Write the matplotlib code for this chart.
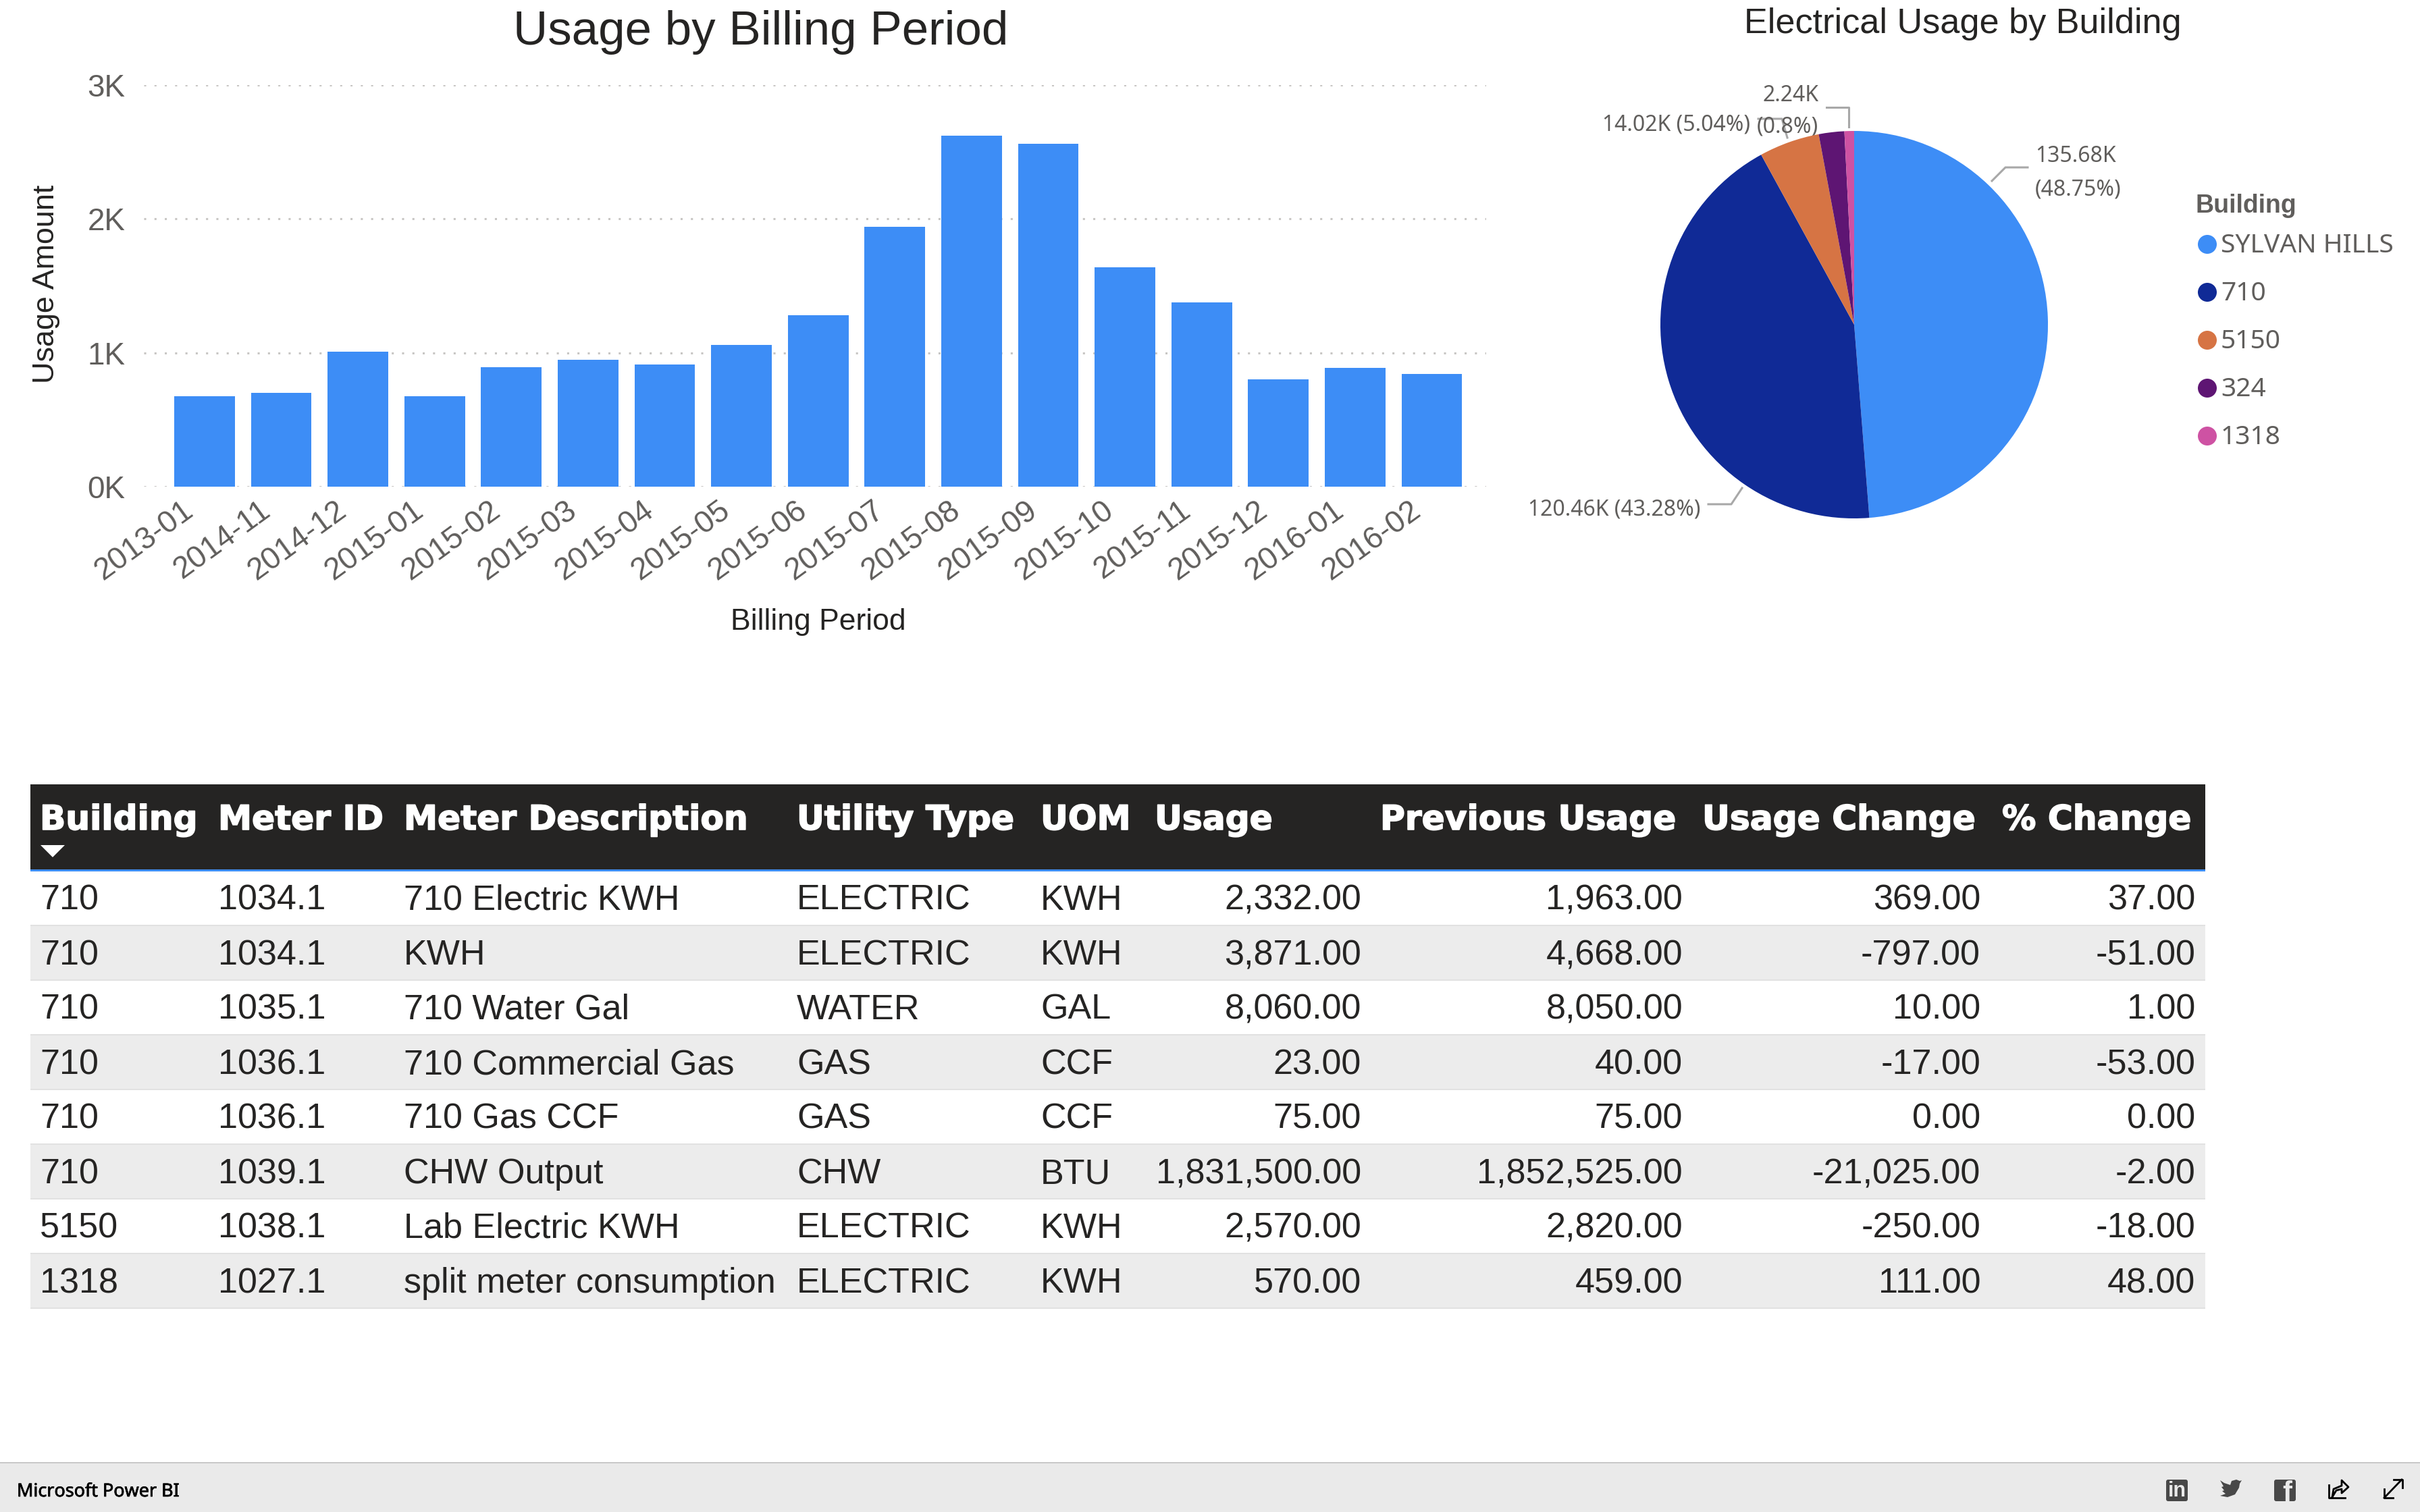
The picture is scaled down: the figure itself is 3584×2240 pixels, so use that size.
# coding: UTF-8
# Power BI usage report page: bar chart, pie chart, meter table and footer bar

import numpy as np
import matplotlib
matplotlib.use('Agg')
import matplotlib.pyplot as plt
from matplotlib.patches import Rectangle, Circle, FancyBboxPatch, Polygon
from matplotlib.transforms import ScaledTranslation
import matplotlib.patheffects as pe

periods = ['2013-01', '2014-11', '2014-12', '2015-01', '2015-02', '2015-03',
           '2015-04', '2015-05', '2015-06', '2015-07', '2015-08', '2015-09',
           '2015-10', '2015-11', '2015-12', '2016-01', '2016-02']
usage_amount = [678, 700, 1006, 678, 890, 948, 915, 1058, 1280, 1940, 2620,
                2560, 1640, 1375, 800, 885, 840]
y_ticks = [0, 1000, 2000, 3000]
y_tick_labels = ['0K', '1K', '2K', '3K']

buildings = ['SYLVAN HILLS', '710', '5150', '324', '1318']
building_usage = [135.68, 120.46, 14.02, 5.92, 2.24]
building_colors = ['#3D8DF6', '#102A96', '#D67444', '#5E1573', '#CE52A3']

table_header = ['Building', 'Meter ID', 'Meter Description', 'Utility Type', 'UOM',
                'Usage', 'Previous Usage', 'Usage Change', '% Change']
col_building = ['710', '710', '710', '710', '710', '710', '5150', '1318']
col_meter_id = ['1034.1', '1034.1', '1035.1', '1036.1', '1036.1', '1039.1', '1038.1', '1027.1']
col_desc = ['710 Electric KWH', 'KWH', '710 Water Gal', '710 Commercial Gas', '710 Gas CCF',
            'CHW Output', 'Lab Electric KWH', 'split meter consumption']
col_type = ['ELECTRIC', 'ELECTRIC', 'WATER', 'GAS', 'GAS', 'CHW', 'ELECTRIC', 'ELECTRIC']
col_uom = ['KWH', 'KWH', 'GAL', 'CCF', 'CCF', 'BTU', 'KWH', 'KWH']
col_usage = ['2,332.00', '3,871.00', '8,060.00', '23.00', '75.00', '1,831,500.00', '2,570.00', '570.00']
col_prev = ['1,963.00', '4,668.00', '8,050.00', '40.00', '75.00', '1,852,525.00', '2,820.00', '459.00']
col_change = ['369.00', '-797.00', '10.00', '-17.00', '0.00', '-21,025.00', '-250.00', '111.00']
col_pct = ['37.00', '-51.00', '1.00', '-53.00', '0.00', '-2.00', '-18.00', '48.00']

W, H = 3584, 2240
DARK = '#252423'
GREY = '#605E5C'
SANS = 'Liberation Sans'

plt.rcParams['font.family'] = SANS

fig = plt.figure(figsize=(W / 100, H / 100), dpi=100, facecolor='white')


def px_axes(l, t, r, b):
    return fig.add_axes([l / W, 1 - b / H, (r - l) / W, (b - t) / H])


# everything that is not a plot goes on a page axes in pixel coordinates
page = fig.add_axes([0, 0, 1, 1])
page.set_xlim(0, W)
page.set_ylim(H, 0)
page.axis('off')

# bar chart
ax = px_axes(213, 126, 2201, 721)
x = np.arange(len(periods))
ax.bar(x, usage_amount, width=0.79, color=building_colors[0], zorder=3)
ax.set_xlim(-0.792, 16.708)
ax.set_ylim(0, 3000)
ax.set_yticks(y_ticks)
ax.set_yticklabels(y_tick_labels, fontsize=33, color=GREY)
ax.set_xticks(x)
ax.set_xticklabels(periods, fontsize=33, color=GREY, rotation=36, ha='right',
                   rotation_mode='anchor')
ax.tick_params(axis='y', length=0, pad=20)
ax.tick_params(axis='x', length=0, pad=9)
shift_left = ScaledTranslation(-34 / 100, 0, fig.dpi_scale_trans)
for lab in ax.get_xticklabels():
    lab.set_transform(lab.get_transform() + shift_left)
ax.grid(axis='y', color='#C8C6C4', lw=2.2, ls=(0, (1, 4)), zorder=0)
ax.set_axisbelow(True)
ax.patch.set_alpha(0)
for s in ax.spines.values():
    s.set_visible(False)

page.text(1127, 48, 'Usage by Billing Period', fontsize=51, color=DARK, ha='center', va='center')
page.text(1212, 922, 'Billing Period', fontsize=32, color=DARK, ha='center', va='center')
page.text(69, 421, 'Usage Amount', fontsize=32.3, color=DARK, ha='center', va='center', rotation=90)

# pie chart
pie_ax = px_axes(2459, 194, 3033, 768)
pie_ax.pie(building_usage, colors=building_colors, startangle=90, counterclock=False, radius=1)
pie_ax.set_xlim(-1, 1)
pie_ax.set_ylim(-1, 1)

page.text(2907, 36, 'Electrical Usage by Building', fontsize=37.6, color=DARK, ha='center', va='center')

LABEL_FONT = 'Noto Sans'
leaders = [[(2950, 268), (2970, 248), (3003, 248)],
           [(2530, 747), (2564, 747), (2580, 723)],
           [(2604, 176), (2639, 176), (2647, 204)],
           [(2705, 159), (2738, 159), (2738, 188)]]
for pts in leaders:
    page.plot([p[0] for p in pts], [p[1] for p in pts], color='#A8A8A8', lw=2.2)
page.text(3014, 232, '135.68K', fontsize=23, color=GREY, va='center', family=LABEL_FONT)
page.text(3014, 281, '(48.75%)', fontsize=23, color=GREY, va='center', family=LABEL_FONT)
page.text(2518, 755, '120.46K (43.28%)', fontsize=23, color=GREY, va='center', ha='right', family=LABEL_FONT)
page.text(2592, 185, '14.02K (5.04%)', fontsize=23, color=GREY, va='center', ha='right', family=LABEL_FONT)
page.text(2652, 142, '2.24K', fontsize=23, color=GREY, va='center', ha='center', family=LABEL_FONT)
page.text(2647, 188, '(0.8%)', fontsize=23, color=GREY, va='center', ha='center', family=LABEL_FONT)

# legend
page.text(3252, 305, 'Building', fontsize=27, color=GREY, va='center', fontweight='bold')
for i, (name, c) in enumerate(zip(buildings, building_colors)):
    y = 362 + i * 71
    page.add_patch(Circle((3269, y), 14, color=c, lw=0))
    page.text(3289, y + 2, name, fontsize=28, color=GREY, va='center', family=LABEL_FONT)

# table
TL, TR = 45, 3266
page.add_patch(Rectangle((TL, 1162), TR - TL, 126, color=DARK, lw=0))
page.add_patch(Rectangle((TL, 1288), TR - TL, 3, color=building_colors[0], lw=0))

header_x = [59, 323, 598, 1180, 1541, 1710, 2044, 2521, 2965]
for hx, name in zip(header_x, table_header):
    page.text(hx, 1215, name, fontsize=36.2, color='white', fontweight='bold', family='DejaVu Sans',
              va='center', path_effects=[pe.withStroke(linewidth=1.2, foreground='white')])
page.add_patch(Polygon([(60, 1252), (96, 1252), (78, 1270)], color='white', lw=0))

row_h = 81
first_row = 1291
left_cols = [(59, col_building), (323, col_meter_id), (598, col_desc), (1180, col_type), (1541, col_uom)]
right_cols = [(2016, col_usage), (2492, col_prev), (2933, col_change), (3251, col_pct)]
for r in range(len(col_building)):
    top = first_row + r * row_h
    if r % 2 == 1:
        page.add_patch(Rectangle((TL, top), TR - TL, row_h, color='#ECECEC', lw=0))
    page.add_patch(Rectangle((TL, top + row_h - 2.5), TR - TL, 2.5, color='#E1E1E1', lw=0))
    for cx, col in left_cols:
        page.text(cx, top + row_h / 2 + 3, col[r], fontsize=37.5, color=DARK, va='center')
    for cx, col in right_cols:
        page.text(cx, top + row_h / 2 + 3, col[r], fontsize=37.5, color=DARK, va='center', ha='right')

# footer bar
page.add_patch(Rectangle((0, 2168), W, H - 2168, color='#EAEAEA', lw=0))
page.add_patch(Rectangle((0, 2166), W, 2, color='#C8C8C8', lw=0))
page.text(25, 2210, 'Microsoft Power BI', fontsize=19.4, color='black', va='center',
          family=LABEL_FONT, path_effects=[pe.withStroke(linewidth=0.5, foreground='black')])

ICON = '#484848'
page.add_patch(FancyBboxPatch((3210, 2194), 28, 28, boxstyle='round,pad=2,rounding_size=3', color=ICON, lw=0))
page.text(3224, 2209, 'in', fontsize=22, color='#EAEAEA', fontweight='bold', ha='center', va='center')
bird = [(3288, 2193), (3294, 2197), (3303, 2200), (3305, 2194), (3312, 2192), (3317, 2194), (3320, 2193),
        (3317, 2198), (3316, 2204), (3310, 2214), (3299, 2218), (3288, 2216), (3296, 2213), (3291, 2209),
        (3294, 2208), (3290, 2203), (3293, 2202)]
page.add_patch(Polygon(bird, color=ICON, lw=0))
page.add_patch(FancyBboxPatch((3370, 2194), 28, 28, boxstyle='round,pad=2,rounding_size=3', color=ICON, lw=0))
page.text(3387, 2213, 'f', fontsize=30, color='#EAEAEA', fontweight='bold', ha='center', va='center')
page.plot([3449, 3449, 3473], [2200, 2219, 2219], color='black', lw=2)
page.plot([3454, 3456, 3468, 3468, 3478, 3468, 3468, 3460, 3454],
          [2218, 2206, 2201, 2193, 2203, 2212, 2206, 2208, 2218], color='black', lw=2)
page.plot([3531, 3557], [2219, 2192], color='black', lw=2)
page.plot([3545, 3558, 3558], [2192, 2192, 2204], color='black', lw=2)
page.plot([3531, 3531, 3544], [2206, 2219, 2219], color='black', lw=2)

page.set_zorder(0)
ax.set_zorder(1)
pie_ax.set_zorder(1)

plt.savefig('out.png', dpi=100)
